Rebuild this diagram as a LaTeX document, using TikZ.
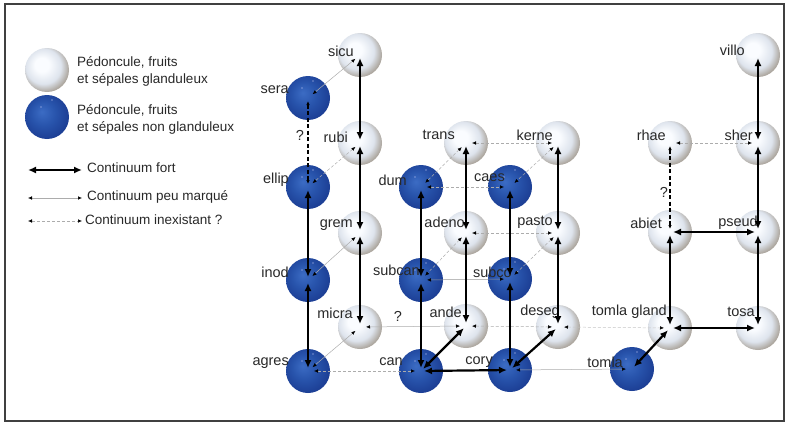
\documentclass[tikz,border=0pt]{standalone}
\usepackage{fontspec}
\setmainfont{Liberation Sans}
\usetikzlibrary{arrows.meta,calc}
\definecolor{bbA}{RGB}{60,108,196}
\definecolor{bbB}{RGB}{40,84,172}
\definecolor{bbC}{RGB}{28,62,148}
\definecolor{wbA}{RGB}{250,252,255}
\definecolor{wbB}{RGB}{222,228,237}
\definecolor{wbC}{RGB}{172,166,158}
\definecolor{txt}{RGB}{40,40,40}
\pgfdeclareradialshading{wball}{\pgfpoint{-7bp}{7bp}}{color(0bp)=(wbA); color(8bp)=(wbA); color(20bp)=(wbB); color(28bp)=(wbC); color(50bp)=(wbC)}
\pgfdeclareradialshading{bball}{\pgfpoint{-6bp}{6bp}}{color(0bp)=(bbA); color(14bp)=(bbB); color(28bp)=(bbC); color(50bp)=(bbC)}
\tikzset{
  wb/.style={circle, minimum size=44pt, inner sep=0pt, shading=wball},
  bb/.style={circle, minimum size=44pt, inner sep=0pt, shading=bball,
    path picture={\fill[white!85!blue] ($(path picture bounding box.center)+(5,-17)$) circle (0.7);
                  \fill[white!85!blue] ($(path picture bounding box.center)+(-6,-10)$) circle (0.7);}},
  lbl/.style={anchor=east, inner sep=0pt, font=\fontsize{14.5}{16}\selectfont, text=txt},
  leg/.style={anchor=west, inner sep=0pt, align=left, font=\fontsize{13.5}{17}\selectfont, text=txt},
  fort/.style={line width=2.2pt, {Latex[length=8pt,width=7pt]}-{Latex[length=8pt,width=7pt]}, shorten <=3pt, shorten >=3pt},
  faible/.style={line width=0.5pt, draw=gray!65, {Latex[length=4pt,width=3.5pt,black]}-{Latex[length=4pt,width=3.5pt,black]}, shorten <=6pt, shorten >=6pt},
  nul/.style={faible, dash pattern=on 3pt off 2pt},
  nulfort/.style={line width=1.2pt, draw=black, dash pattern=on 4pt off 2.5pt, {Latex[length=4pt,width=3.5pt]}-{Latex[length=4pt,width=3.5pt]}, shorten <=3pt, shorten >=3pt},
}
\begin{document}
\begin{tikzpicture}[x=1pt, y=-1pt]
\useasboundingbox (0,0) rectangle (788,423);
\draw[line width=1.2pt, draw=black!75] (5,4) rectangle (784,421);

% legend
\node[wb] (lw) at (47,70) {};
\node[bb] (lb) at (47,117) {};
\node[leg] (lwt) at (77,71.5) {Pédoncule, fruits\\et sépales glanduleux};
\node[leg] (lbt) at (77,119) {Pédoncule, fruits\\et sépales non glanduleux};
\coordinate (f1) at (28,170); \coordinate (f2) at (82,170);
\coordinate (p1) at (28,198); \coordinate (p2) at (82,198);
\coordinate (n1) at (28,221); \coordinate (n2) at (82,221);
\draw[fort, line width=2.4pt, shorten <=0pt, shorten >=0pt] (f1) -- (f2);
\draw[faible, shorten <=0pt, shorten >=0pt] (p1) -- (p2);
\draw[nul, shorten <=0pt, shorten >=0pt] (n1) -- (n2);
\node[leg] (ft) at (87,168) {Continuum fort};
\node[leg] (pt) at (87,197) {Continuum peu marqué};
\node[leg] (nt) at (85,220) {Continuum inexistant ?};

% white balls
\node[wb] (sicu) at (360,55) {};
\node[wb] (rubi) at (360,143) {};
\node[wb] (grem) at (360,233) {};
\node[wb] (micra) at (360,327) {};
\node[wb] (trans) at (466,143) {};
\node[wb] (adeno) at (466,233) {};
\node[wb] (ande) at (466,326) {};
\node[wb] (kerne) at (558,143) {};
\node[wb] (pasto) at (558,233) {};
\node[wb] (deseg) at (558,327) {};
\node[wb] (rhae) at (670,143) {};
\node[wb] (abiet) at (670,232) {};
\node[wb] (tgland) at (670,328) {};
\node[wb] (villo) at (758,55) {};
\node[wb] (sher) at (758,143) {};
\node[wb] (pseud) at (758,232) {};
\node[wb] (tosa) at (758,328) {};
% blue balls
\node[bb] (sera) at (308,98) {};
\node[bb] (ellip) at (308,187) {};
\node[bb] (inod) at (308,280) {};
\node[bb] (agres) at (308,371) {};
\node[bb] (dum) at (421,187) {};
\node[bb] (subcan) at (421,280) {};
\node[bb] (can) at (421,371) {};
\node[bb] (caes) at (510,187) {};
\node[bb] (subco) at (510,279) {};
\node[bb] (cory) at (510,370) {};
\node[bb] (tomla) at (632,369) {};

% labels
\node[lbl] (l-sicu) at (354,51) {sicu};
\node[lbl] (l-sera) at (289,90) {sera};
\node[lbl] (l-rubi) at (348,137) {rubi};
\node[lbl] (l-ellip) at (289,180) {ellip};
\node[lbl] (l-grem) at (353,225) {grem};
\node[lbl] (l-inod) at (289,272) {inod};
\node[lbl] (l-micra) at (353,313) {micra};
\node[lbl] (l-agres) at (289,363) {agres};
\node[lbl] (l-trans) at (455,135) {trans};
\node[lbl] (l-dum) at (407,180) {dum};
\node[lbl] (l-adeno) at (465,222) {adeno};
\node[lbl] (l-subcan) at (420,270) {subcan};
\node[lbl] (l-ande) at (462,312) {ande};
\node[lbl] (l-can) at (403,362) {can};
\node[lbl] (l-kerne) at (553,135) {kerne};
\node[lbl] (l-caes) at (505,178) {caes};
\node[lbl] (l-pasto) at (553,222) {pasto};
\node[lbl] (l-subco) at (512,272) {subco};
\node[lbl] (l-deseg) at (560,312) {deseg};
\node[lbl] (l-cory) at (493,362) {cory};
\node[lbl] (l-rhae) at (666,135) {rhae};
\node[lbl] (l-abiet) at (662,223) {abiet};
\node[lbl] (l-tgland) at (667,312) {tomla gland};
\node[lbl] (l-tomla) at (623,362) {tomla};
\node[lbl] (l-villo) at (745,50) {villo};
\node[lbl] (l-sher) at (753,135) {sher};
\node[lbl] (l-pseud) at (758,223) {pseud};
\node[lbl] (l-tosa) at (755,312) {tosa};
\node[lbl, anchor=center] (q1) at (300,135) {?};
\node[lbl, anchor=center] (q2) at (398,316) {?};
\node[lbl, anchor=center] (q3) at (664,192) {?};

% weak connectors
\draw[faible] (sicu.center) -- (sera.center);
\draw[faible] (grem.center) -- (inod.center);
\draw[faible] (micra.center) -- (agres.center);
\draw[faible] (micra.center) -- (ande.center);
\draw[faible, draw=gray!80] (subcan.center) -- (subco.center);
\draw[faible] (cory.center) -- (tomla.center);
% non-existent connectors
\draw[nul] (rubi.center) -- (ellip.center);
\draw[nul] (agres.center) -- (can.center);
\draw[nul] (trans.center) -- (dum.center);
\draw[nul] (trans.center) -- (kerne.center);
\draw[nul] (dum.center) -- (caes.center);
\draw[nul] (adeno.center) -- (pasto.center);
\draw[nul] (adeno.center) -- (subcan.center);
\draw[nul] (kerne.center) -- (caes.center);
\draw[nul] (pasto.center) -- (subco.center);
\draw[nul] (ande.center) -- (deseg.center);
\draw[nul, draw=gray!45] (deseg.center) -- (tgland.center);
\draw[nul] (rhae.center) -- (sher.center);
\draw[nulfort] (sera.center) -- (ellip.center);
\draw[nulfort] (rhae.center) -- (abiet.center);

% strong connectors
\draw[fort] (sicu.center) -- (rubi.center);
\draw[fort] (rubi.center) -- (grem.center);
\draw[fort] (grem.center) -- (micra.center);
\draw[fort] (ellip.center) -- (inod.center);
\draw[fort] (inod.center) -- (agres.center);
\draw[fort] (trans.center) -- (adeno.center);
\draw[fort] (adeno.center) -- (ande.center);
\draw[fort] (dum.center) -- (subcan.center);
\draw[fort] (subcan.center) -- (can.center);
\draw[fort] (caes.center) -- (subco.center);
\draw[fort] (subco.center) -- (cory.center);
\draw[fort] (kerne.center) -- (pasto.center);
\draw[fort] (pasto.center) -- (deseg.center);
\draw[fort] (can.center) -- (cory.center);
\draw[fort] (can.center) -- (ande.center);
\draw[fort] (cory.center) -- (deseg.center);
\draw[fort] (tomla.center) -- (tgland.center);
\draw[fort] (abiet.center) -- (tgland.center);
\draw[fort] (abiet.center) -- (pseud.center);
\draw[fort] (tgland.center) -- (tosa.center);
\draw[fort] (pseud.center) -- (tosa.center);
\draw[fort] (villo.center) -- (sher.center);
\draw[fort] (sher.center) -- (pseud.center);
\end{tikzpicture}
\end{document}
